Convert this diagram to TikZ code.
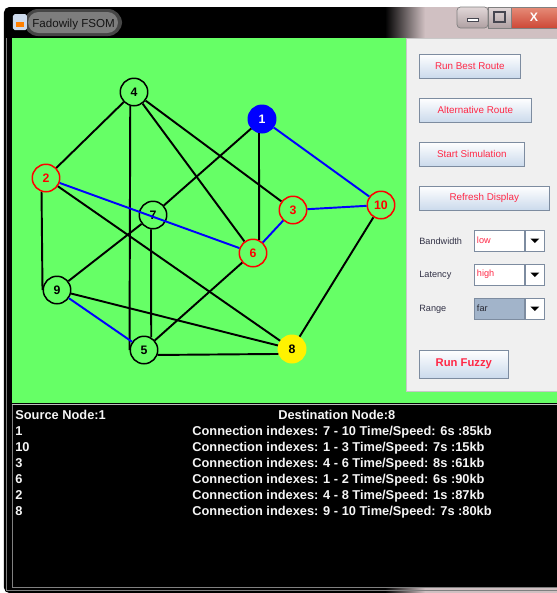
\documentclass[tikz,border=0pt]{standalone}
\usepackage{fontspec}
\setmainfont{Liberation Sans}
\usetikzlibrary{positioning}
\definecolor{fsomgreen}{RGB}{102,255,102}
\definecolor{panelgray}{RGB}{240,240,240}
\definecolor{paneledge}{RGB}{200,200,200}
\definecolor{btnedge}{RGB}{125,140,160}
\definecolor{btnlow}{RGB}{203,218,236}
\definecolor{uired}{RGB}{255,40,70}
\definecolor{framepink}{RGB}{208,192,194}
\definecolor{winbtntop}{RGB}{225,215,216}
\definecolor{winbtnlow}{RGB}{175,160,162}
\definecolor{closetop}{RGB}{230,140,120}
\definecolor{closered}{RGB}{205,72,55}
\definecolor{glyphgray}{RGB}{70,70,80}
\definecolor{glowouter}{RGB}{70,70,70}
\definecolor{glowgray}{RGB}{125,125,125}
\definecolor{iconblue}{RGB}{205,218,236}
\definecolor{titletext}{RGB}{20,20,20}
\definecolor{rangefill}{RGB}{162,180,202}
\definecolor{rangetext}{RGB}{40,40,50}
\definecolor{outwhite}{RGB}{245,245,245}
\definecolor{lbltext}{RGB}{50,50,70}
\definecolor{sepgray}{RGB}{190,190,190}
\begin{document}
\begin{tikzpicture}[x=0.02cm,y=-0.02cm,
	vertex/.style={circle,draw,line width=.85pt,minimum size=.55cm,inner sep=0pt,font=\fontsize{7}{7}\selectfont\bfseries},
	link/.style={line width=1.1pt},
	pathlink/.style={line width=1.1pt,blue},
	btn/.style={draw=btnedge,top color=white,bottom color=btnlow,text=uired,anchor=west,minimum height=.48cm,inner sep=0pt,font=\fontsize{5.6}{5.6}\selectfont},
	lbl/.style={anchor=west,inner sep=0pt,text=lbltext,font=\fontsize{5.2}{5.2}\selectfont},
	combo/.style={draw=btnedge,fill=white,anchor=west,text width=.9cm,inner xsep=1.5pt,minimum height=.42cm,text=uired,font=\fontsize{5.2}{5.2}\selectfont},
	arrowbox/.style={draw=btnedge,fill=white,anchor=west,minimum width=.38cm,minimum height=.42cm,inner sep=0pt},
	outtxt/.style={anchor=base west,inner sep=0pt,text=outwhite,font=\fontsize{7.3}{8}\selectfont\bfseries}]
	\useasboundingbox (0,0) rectangle (557,593);
	\fill[white] (0,0) rectangle (557,593);
	% window frame and title bar
	\fill[black,rounded corners=3pt] (4,7) rectangle (557,593);
	\shade[left color=black,right color=framepink] (385,7) rectangle (425,38);
	\fill[framepink] (425,7) rectangle (557,38);
	\shade[left color=black,right color=framepink] (385,587) rectangle (425,593);
	\fill[framepink] (425,587) rectangle (557,593);
	\draw[gray] (6,38)--(6,590)--(557,590);
	\fill[glowouter,rounded corners=8pt] (24,9) rectangle (122,36);
	\fill[glowgray,rounded corners=6pt] (28,12) rectangle (118,33);
	\fill[iconblue,rounded corners=1pt] (13,14) rectangle (27,30);
	\fill[orange] (16,22) rectangle (24,27);
	\node[anchor=base west,inner sep=0pt,text=titletext,font=\fontsize{6.6}{6.6}\selectfont] (title) at (32,27) {Fadowily FSOM};
	% window buttons
	\shade[top color=winbtntop,bottom color=winbtnlow,draw=gray,rounded corners=2pt] (457,7) rectangle (488,28);
	\shade[top color=winbtntop,bottom color=winbtnlow,draw=gray] (488,7) rectangle (511,28);
	\shade[top color=closetop,bottom color=closered,draw=gray] (511,7) rectangle (557,28);
	\draw[fill=white,draw=glyphgray] (467,18) rectangle (478,21);
	\draw[draw=glyphgray,line width=.6pt] (494,12) rectangle (505,22);
	\node[text=white,font=\fontsize{7}{7}\selectfont\bfseries,inner sep=0pt] (closex) at (534,17.5) {X};
	% panels
	\fill[fsomgreen] (12,38) rectangle (557,403);
	\draw[fill=panelgray,draw=paneledge] (406,38) rectangle (557,391);
	\fill[black] (12,405) rectangle (557,587);
	\draw[sepgray] (12,404)--(557,404);
	\draw[gray] (12,405)--(12,587)--(557,587);
	% graph
	\node[vertex,fill=blue,draw=blue,text=white] (n1) at (262,119) {1};
	\node[vertex,red] (n2) at (46,178) {2};
	\node[vertex,red] (n3) at (293,210) {3};
	\node[vertex] (n4) at (134,92) {4};
	\node[vertex] (n5) at (144,350) {5};
	\node[vertex,red] (n6) at (253,253) {6};
	\node[vertex] (n7) at (153,215) {7};
	\node[vertex,fill=yellow,draw=yellow] (n8) at (292,349) {8};
	\node[vertex] (n9) at (57,290) {9};
	\node[vertex,red] (n10) at (381,205) {10};
	\draw[link] (n4)--(n2);
	\draw[link] (n4.255)--(n5.west);
	\draw[link] (n4)--(n6);
	\draw[link] (n4)--(n3);
	\draw[link] (n2.252)--(n9.west);
	\draw[link] (n2)--(n8);
	\draw[link] (n7)--(n1);
	\draw[link] (n7.262)--(n5.60);
	\draw[link] (n7)--(n9);
	\draw[link] (n1.258)--(n6.65);
	\draw[link] (n10)--(n8);
	\draw[link] (n9)--(n8);
	\draw[link] (n5)--(n6);
	\draw[link] (n5.340)--(n8.200);
	\draw[pathlink] (n2)--(n6);
	\draw[pathlink] (n1)--(n10);
	\draw[pathlink] (n3)--(n10);
	\draw[pathlink] (n3)--(n6);
	\draw[pathlink] (n9)--(n5);
	% controls
	\node[btn,minimum width=2.02cm] (bestroute) at (419,66) {Run Best Route};
	\node[btn,minimum width=2.24cm] (altroute) at (419,110) {Alternative Route};
	\node[btn,minimum width=2.10cm] (startsim) at (419,154) {Start Simulation};
	\node[btn,minimum width=2.60cm] (refresh) at (419,198) {Refresh Display};
	\node[lbl] (bwlabel) at (419,241) {Bandwidth};
	\node[lbl] (latlabel) at (419,275) {Latency};
	\node[lbl] (rangelabel) at (419,309) {Range};
	\node[combo] (bwfield) at (474,240.5) {low};
	\node[combo] (latfield) at (474,274.5) {high};
	\node[combo,fill=rangefill,text=rangetext] (rangefield) at (474,308.5) {far};
	\node[arrowbox] (bwarrow) at (bwfield.east) {};
	\node[arrowbox] (latarrow) at (latfield.east) {};
	\node[arrowbox] (rangearrow) at (rangefield.east) {};
	\fill (bwarrow.center) ++(-4.5,-2) -- ++(9,0) -- ++(-4.5,4.5) -- cycle;
	\fill (latarrow.center) ++(-4.5,-2) -- ++(9,0) -- ++(-4.5,4.5) -- cycle;
	\fill (rangearrow.center) ++(-4.5,-2) -- ++(9,0) -- ++(-4.5,4.5) -- cycle;
	\node[btn,minimum width=1.78cm,minimum height=.56cm,font=\fontsize{6.4}{6.4}\selectfont\bfseries] (fuzzy) at (419,364) {Run Fuzzy};
	% output log
	\node[outtxt] (srcnode) at (15,419) {Source Node:1};
	\node[outtxt] (dstnode) at (278,419) {Destination Node:8};
	\node[outtxt] (hop1) at (15,435.5) {1};
	\node[outtxt] (hop2) at (15,451.5) {10};
	\node[outtxt] (hop3) at (15,467.5) {3};
	\node[outtxt] (hop4) at (15,483.2) {6};
	\node[outtxt] (hop5) at (15,499) {2};
	\node[outtxt] (hop6) at (15,515) {8};
	\node[outtxt] (conn1) at (192,435.5) {Connection indexes: 7 - 10 Time/Speed: 6s :85kb};
	\node[outtxt] (conn2) at (192,451.5) {Connection indexes: 1 - 3 Time/Speed: 7s :15kb};
	\node[outtxt] (conn3) at (192,467.5) {Connection indexes: 4 - 6 Time/Speed: 8s :61kb};
	\node[outtxt] (conn4) at (192,483.2) {Connection indexes: 1 - 2 Time/Speed: 6s :90kb};
	\node[outtxt] (conn5) at (192,499) {Connection indexes: 4 - 8 Time/Speed: 1s :87kb};
	\node[outtxt] (conn6) at (192,515) {Connection indexes: 9 - 10 Time/Speed: 7s :80kb};
\end{tikzpicture}
\end{document}
